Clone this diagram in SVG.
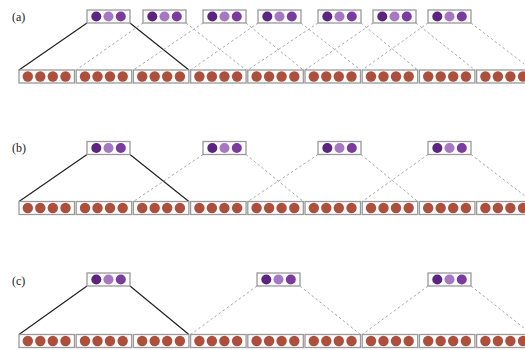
<svg xmlns="http://www.w3.org/2000/svg" xmlns:xlink="http://www.w3.org/1999/xlink" width="525" height="350" viewBox="0 0 525 350">
<style>
.box{fill:#fdfdfd;stroke:#9a9a9a;stroke-width:1.3}
.r{fill:#ac4f3c}
.p1{fill:#5a2480}
.p2{fill:#a678c4}
.p3{fill:#7a3a9e}
.solid{stroke:#222;stroke-width:1.2;fill:none}
.dash{stroke:#a8a8a8;stroke-width:1;stroke-dasharray:2.5 2.5;fill:none}
.lbl{font-family:"Liberation Serif",serif;font-size:12px;fill:#222}
</style>
<defs>
<g id="bb">
<rect class="box" x="0" y="0" width="55.5" height="13"/>
<circle class="r" cx="8.8" cy="6.5" r="5.2"/>
<circle class="r" cx="21.3" cy="6.5" r="5.2"/>
<circle class="r" cx="33.8" cy="6.5" r="5.2"/>
<circle class="r" cx="46.5" cy="6.5" r="5.2"/>
</g>
<g id="tb">
<rect class="box" x="0" y="0" width="43" height="13"/>
<circle class="p1" cx="9.3" cy="6.5" r="5"/>
<circle class="p2" cx="21.5" cy="6.5" r="5"/>
<circle class="p3" cx="33.8" cy="6.5" r="5"/>
</g>
</defs>
<rect width="525" height="350" fill="#ffffff"/>
<g id="connectors">
<path class="solid" d="M87,23 L19,70 M130,23 L188.9,70"/>
<path class="dash" d="M143,23 L76.2,70 M186,23 L246.1,70 M203,23 L133.4,70 M246,23 L303.3,70 M258,23 L190.6,70 M301,23 L360.5,70 M318,23 L247.8,70 M361,23 L417.7,70 M373,23 L305,70 M416,23 L474.9,70 M428,23 L362.2,70 M471,23 L532.1,70"/>
<path class="solid" d="M87,154.5 L19,201.5 M130,154.5 L188.9,201.5"/>
<path class="dash" d="M203,154.5 L133.4,201.5 M246,154.5 L303.3,201.5 M318,154.5 L247.8,201.5 M361,154.5 L417.7,201.5 M428,154.5 L362.2,201.5 M471,154.5 L532.1,201.5"/>
<path class="solid" d="M87,286 L19,334.5 M130,286 L188.9,334.5"/>
<path class="dash" d="M257,286 L190.6,334.5 M300,286 L360.5,334.5 M428,286 L362.2,334.5 M471,286 L532.1,334.5"/>
</g>
<g id="labels">
<text class="lbl" x="12" y="21">(a)</text>
<text class="lbl" x="12" y="152">(b)</text>
<text class="lbl" x="12" y="285">(c)</text>
</g>
<g id="row-a-bottom">
<g id="a-b0"><use xlink:href="#bb" x="19" y="70"/></g>
<g id="a-b1"><use xlink:href="#bb" x="76.2" y="70"/></g>
<g id="a-b2"><use xlink:href="#bb" x="133.4" y="70"/></g>
<g id="a-b3"><use xlink:href="#bb" x="190.6" y="70"/></g>
<g id="a-b4"><use xlink:href="#bb" x="247.8" y="70"/></g>
<g id="a-b5"><use xlink:href="#bb" x="305" y="70"/></g>
<g id="a-b6"><use xlink:href="#bb" x="362.2" y="70"/></g>
<g id="a-b7"><use xlink:href="#bb" x="419.4" y="70"/></g>
<g id="a-b8"><use xlink:href="#bb" x="476.6" y="70"/></g>
</g>
<g id="row-a-top">
<g id="a-t0"><use xlink:href="#tb" x="87" y="10"/></g>
<g id="a-t1"><use xlink:href="#tb" x="143" y="10"/></g>
<g id="a-t2"><use xlink:href="#tb" x="203" y="10"/></g>
<g id="a-t3"><use xlink:href="#tb" x="258" y="10"/></g>
<g id="a-t4"><use xlink:href="#tb" x="318" y="10"/></g>
<g id="a-t5"><use xlink:href="#tb" x="373" y="10"/></g>
<g id="a-t6"><use xlink:href="#tb" x="428" y="10"/></g>
</g>
<g id="row-b-bottom">
<g id="b-b0"><use xlink:href="#bb" x="19" y="201.5"/></g>
<g id="b-b1"><use xlink:href="#bb" x="76.2" y="201.5"/></g>
<g id="b-b2"><use xlink:href="#bb" x="133.4" y="201.5"/></g>
<g id="b-b3"><use xlink:href="#bb" x="190.6" y="201.5"/></g>
<g id="b-b4"><use xlink:href="#bb" x="247.8" y="201.5"/></g>
<g id="b-b5"><use xlink:href="#bb" x="305" y="201.5"/></g>
<g id="b-b6"><use xlink:href="#bb" x="362.2" y="201.5"/></g>
<g id="b-b7"><use xlink:href="#bb" x="419.4" y="201.5"/></g>
<g id="b-b8"><use xlink:href="#bb" x="476.6" y="201.5"/></g>
</g>
<g id="row-b-top">
<g id="b-t0"><use xlink:href="#tb" x="87" y="141.5"/></g>
<g id="b-t1"><use xlink:href="#tb" x="203" y="141.5"/></g>
<g id="b-t2"><use xlink:href="#tb" x="318" y="141.5"/></g>
<g id="b-t3"><use xlink:href="#tb" x="428" y="141.5"/></g>
</g>
<g id="row-c-bottom">
<g id="c-b0"><use xlink:href="#bb" x="19" y="334.5"/></g>
<g id="c-b1"><use xlink:href="#bb" x="76.2" y="334.5"/></g>
<g id="c-b2"><use xlink:href="#bb" x="133.4" y="334.5"/></g>
<g id="c-b3"><use xlink:href="#bb" x="190.6" y="334.5"/></g>
<g id="c-b4"><use xlink:href="#bb" x="247.8" y="334.5"/></g>
<g id="c-b5"><use xlink:href="#bb" x="305" y="334.5"/></g>
<g id="c-b6"><use xlink:href="#bb" x="362.2" y="334.5"/></g>
<g id="c-b7"><use xlink:href="#bb" x="419.4" y="334.5"/></g>
<g id="c-b8"><use xlink:href="#bb" x="476.6" y="334.5"/></g>
</g>
<g id="row-c-top">
<g id="c-t0"><use xlink:href="#tb" x="87" y="273"/></g>
<g id="c-t1"><use xlink:href="#tb" x="257" y="273"/></g>
<g id="c-t2"><use xlink:href="#tb" x="428" y="273"/></g>
</g>
</svg>
